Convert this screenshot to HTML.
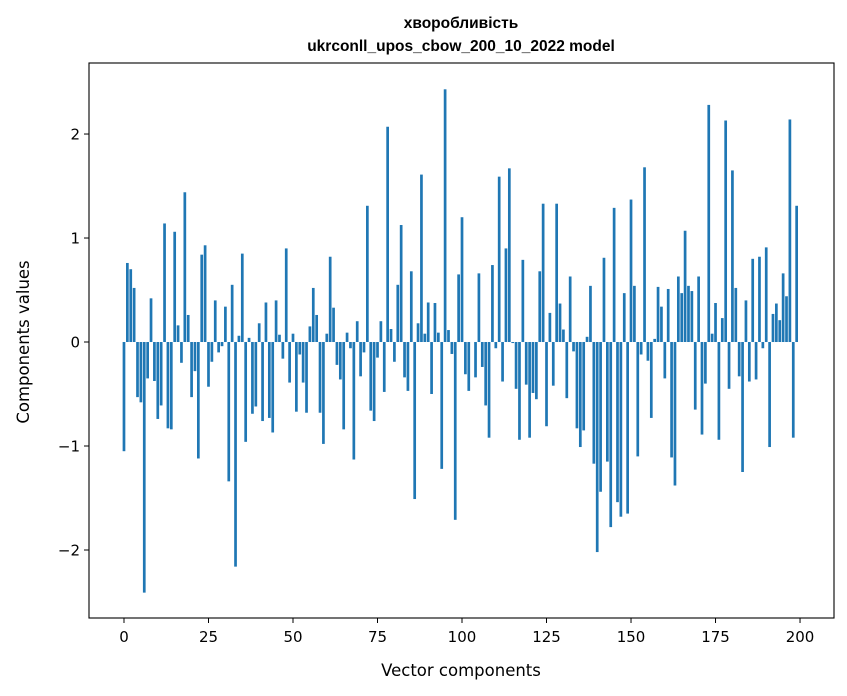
<!DOCTYPE html>
<html><head><meta charset="utf-8"><style>
body{margin:0;background:#fff;}
svg{display:block;font-family:"DejaVu Sans","Liberation Sans",sans-serif;}
</style></head><body>
<svg id="chart" width="847" height="696" viewBox="0 0 847 696">
<rect width="847" height="696" fill="#fff"/>
<text x="461" y="28" text-anchor="middle" font-size="15.5" font-weight="bold" font-family="Liberation Sans, sans-serif">хворобливість</text>
<text x="461" y="51" text-anchor="middle" font-size="15.5" font-weight="bold" font-family="Liberation Sans, sans-serif">ukrconll_upos_cbow_200_10_2022 model</text>
<g id="bars"></g>
<g id="axes"></g>
<text x="461" y="676" text-anchor="middle" font-size="16.5">Vector components</text>
<text transform="translate(29,342) rotate(-90)" text-anchor="middle" font-size="16.5">Components values</text>
</svg>
<script>
const values = [
-1.05,0.76,0.70,0.52,-0.53,-0.58,-2.41,-0.35,0.42,-0.375,
-0.74,-0.61,1.14,-0.83,-0.84,1.06,0.16,-0.20,1.44,0.26,
-0.53,-0.28,-1.12,0.84,0.93,-0.43,-0.19,0.40,-0.10,-0.04,
0.34,-1.34,0.55,-2.16,0.06,0.85,-0.96,0.04,-0.69,-0.62,
0.18,-0.76,0.38,-0.73,-0.87,0.40,0.07,-0.16,0.90,-0.39,
0.08,-0.67,-0.12,-0.39,-0.68,0.15,0.52,0.26,-0.68,-0.98,
0.08,0.82,0.33,-0.22,-0.36,-0.84,0.09,-0.06,-1.13,0.20,
-0.33,-0.10,1.31,-0.66,-0.76,-0.15,0.20,-0.48,2.07,0.125,
-0.19,0.55,1.125,-0.34,-0.47,0.68,-1.51,0.18,1.61,0.08,
0.38,-0.50,0.375,0.09,-1.22,2.43,0.115,-0.115,-1.71,0.65,
1.20,-0.31,-0.47,0.0,-0.34,0.66,-0.24,-0.61,-0.92,0.74,
-0.06,1.59,-0.38,0.90,1.67,-0.01,-0.45,-0.94,0.79,-0.41,
-0.92,-0.49,-0.55,0.68,1.33,-0.81,0.28,-0.42,1.33,0.37,
0.12,-0.54,0.63,-0.09,-0.83,-1.01,-0.85,0.05,0.54,-1.17,
-2.02,-1.44,0.81,-1.15,-1.78,1.29,-1.54,-1.68,0.47,-1.65,
1.37,0.54,-1.10,-0.12,1.68,-0.18,-0.73,0.03,0.53,0.34,
-0.35,0.51,-1.11,-1.38,0.63,0.47,1.07,0.54,0.49,-0.65,
0.63,-0.89,-0.40,2.28,0.08,0.375,-0.94,0.23,2.13,-0.45,
1.65,0.52,-0.33,-1.25,0.40,-0.38,0.80,-0.36,0.82,-0.06,
0.91,-1.01,0.27,0.37,0.21,0.66,0.44,2.14,-0.92,1.31
];
const xTicks = [0,25,50,75,100,125,150,175,200];
const yTicks = [-2,-1,0,1,2];
const NS = "http://www.w3.org/2000/svg";
const L=89,R=834,T=63,B=618;
const xMin=-10.35,xMax=210.05,yMin=-2.654,yMax=2.683;
function xs(v){return L+(v-xMin)/(xMax-xMin)*(R-L);}
function ys(v){return B-(v-yMin)/(yMax-yMin)*(B-T);}
const bars=document.getElementById('bars');
values.forEach((v,i)=>{
  const r=document.createElementNS(NS,'rect');
  const x0=xs(i-0.4),x1=xs(i+0.4);
  const y0=ys(Math.max(v,0)),y1=ys(Math.min(v,0));
  r.setAttribute('x',x0);r.setAttribute('width',x1-x0);
  r.setAttribute('y',y0);r.setAttribute('height',Math.max(y1-y0,0.01));
  r.setAttribute('fill','#1f77b4');
  
  
  bars.appendChild(r);
});
const axes=document.getElementById('axes');
const frame=document.createElementNS(NS,'rect');
frame.setAttribute('x',L);frame.setAttribute('y',T);frame.setAttribute('width',R-L);frame.setAttribute('height',B-T);
frame.setAttribute('fill','none');frame.setAttribute('stroke','#000');frame.setAttribute('stroke-width','1.1');


axes.appendChild(frame);
xTicks.forEach(t=>{
  const x=xs(t);
  const l=document.createElementNS(NS,'line');
  l.setAttribute('x1',x);l.setAttribute('x2',x);l.setAttribute('y1',B);l.setAttribute('y2',B+5);l.setAttribute('stroke','#000');
  
  
  axes.appendChild(l);
  const tx=document.createElementNS(NS,'text');
  tx.setAttribute('x',x);tx.setAttribute('y',B+24);tx.setAttribute('text-anchor','middle');tx.setAttribute('font-size','15');
  tx.textContent=t;
  
  
  axes.appendChild(tx);
});
yTicks.forEach(t=>{
  const y=ys(t);
  const l=document.createElementNS(NS,'line');
  l.setAttribute('x1',L-5);l.setAttribute('x2',L);l.setAttribute('y1',y);l.setAttribute('y2',y);l.setAttribute('stroke','#000');
  
  
  axes.appendChild(l);
  const tx=document.createElementNS(NS,'text');
  tx.setAttribute('x',L-9);tx.setAttribute('y',y+5.5);tx.setAttribute('text-anchor','end');tx.setAttribute('font-size','15');
  tx.textContent=t<0?'\u2212'+Math.abs(t):String(t);
  
  
  axes.appendChild(tx);
});
</script>
</body></html>
